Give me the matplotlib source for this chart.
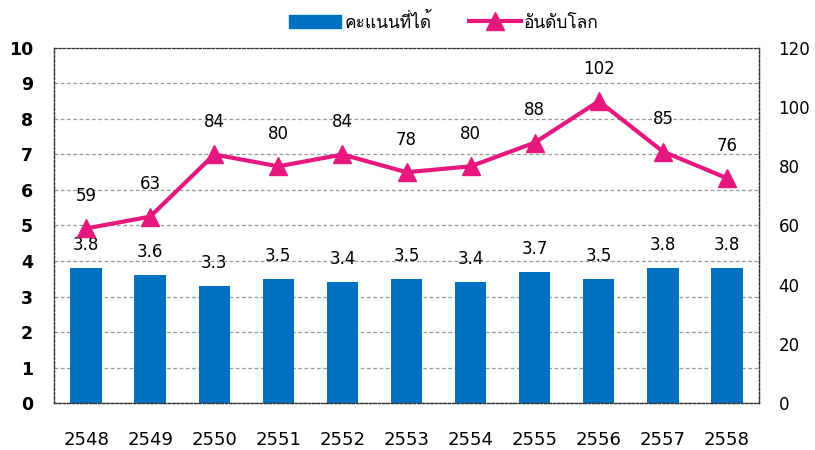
import matplotlib
matplotlib.use("Agg")
import matplotlib.pyplot as plt
import numpy as np
from matplotlib.lines import Line2D
from matplotlib.patches import Patch

plt.rcParams['font.family'] = ['DejaVu Sans']

years = ["2548", "2549", "2550", "2551", "2552", "2553",
         "2554", "2555", "2556", "2557", "2558"]
scores = [3.8, 3.6, 3.3, 3.5, 3.4, 3.5, 3.4, 3.7, 3.5, 3.8, 3.8]
ranks = [59, 63, 84, 80, 84, 78, 80, 88, 102, 85, 76]

blue = "#0070C0"
pink = "#E6187E"

fig = plt.figure(figsize=(8.15, 4.5), dpi=100)
ax = fig.add_axes([0.0663, 0.1044, 0.865, 0.789])
ax2 = ax.twinx()

x = np.arange(len(years))
ax.bar(x, scores, width=0.49, color=blue, zorder=3)
for xi, v in zip(x, scores):
    ax.annotate(f"{v:.1f}", (xi, v), xytext=(0, 10), textcoords="offset points",
                ha="center", va="bottom", fontsize=12)

ax.set_ylim(0, 10)
ax.set_yticks(range(0, 11))
ax.set_xlim(-0.5, len(years) - 0.5)
ax.set_xticks(x)
ax.set_xticklabels(years, fontsize=13)
ax.tick_params(axis="x", length=0, pad=20)
ax.tick_params(axis="y", length=0, pad=15, labelsize=12.5)
for lab in ax.get_yticklabels():
    lab.set_fontweight("bold")
ax.yaxis.grid(True, linestyle=(0, (3, 2)), color="#999999", linewidth=0.9, zorder=0)
ax.set_axisbelow(True)

ax2.plot(x, ranks, color=pink, linewidth=3, marker="^", markersize=13, zorder=4)
for xi, v in zip(x, ranks):
    ax2.annotate(str(v), (xi, v), xytext=(0, 17), textcoords="offset points",
                 ha="center", va="bottom", fontsize=12)
ax2.set_ylim(0, 120)
ax2.set_yticks(range(0, 121, 20))
ax2.tick_params(axis="y", length=0, pad=14, labelsize=12)

for a in (ax, ax2):
    for s in a.spines.values():
        s.set_linestyle((0, (2, 1.5)))
        s.set_color("#333333")
        s.set_linewidth(0.9)
ax2.spines["top"].set_visible(False)

handles = [Patch(color=blue),
           Line2D([0], [0], color=pink, linewidth=3, marker="^", markersize=13)]
fig.legend(handles, ["คะแนนที่ได้", "อันดับโลก"], loc="center",
           bbox_to_anchor=(0.545, 0.951), ncol=2, frameon=False,
           prop={"family": ["Loma", "DejaVu Sans"], "size": 12.5},
           handlelength=3.0, columnspacing=2.1, handletextpad=0.2)

fig.savefig("out.png")
